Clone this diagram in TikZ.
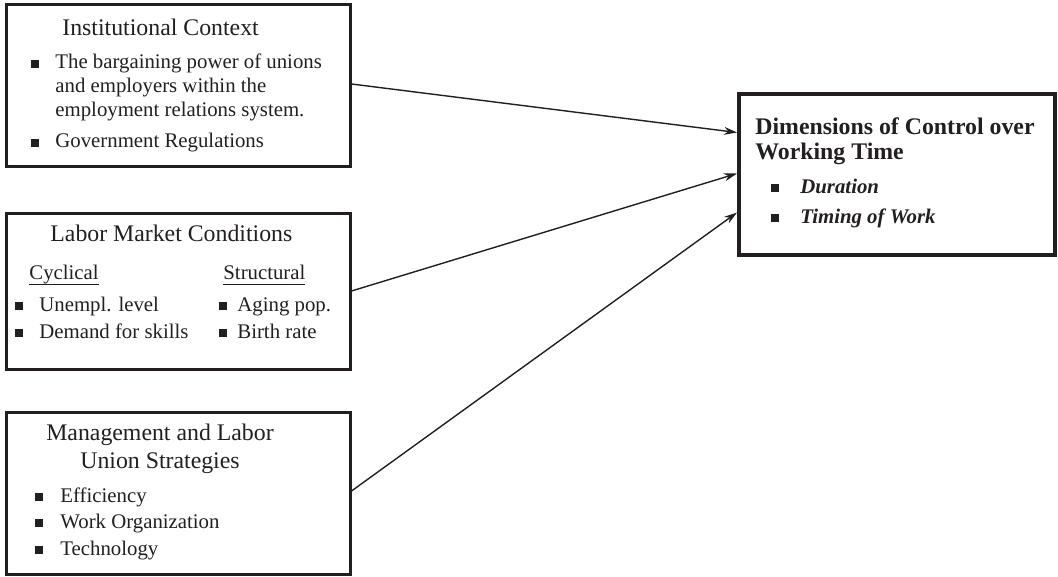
\documentclass[tikz,border=0pt]{standalone}
\usepackage{fontspec}
\setmainfont{Liberation Serif}
\usepackage{tikz}
\usetikzlibrary{positioning,arrows.meta,calc,fit}
\definecolor{Ink}{RGB}{35,31,32}

\newcommand{\sqbul}{\raisebox{0.5pt}{\rule{4pt}{4pt}}}
\newcommand{\bul}[2][8pt]{\llap{\sqbul\hspace{#1}}#2}
\newcommand{\underlined}[1]{\setbox0\hbox{#1}\rlap{\rule[-2.8pt]{\wd0}{0.5pt}}\box0}

\begin{document}
\begin{tikzpicture}[
    x=0.5pt, y=-0.5pt,
    box/.style={rectangle, draw=Ink, line width=1.5pt, inner sep=0pt},
    mainbox/.style={box, line width=2pt},
    title/.style={anchor=base west, inner sep=0pt, text=Ink,
                  font=\fontsize{11.9}{14}\selectfont},
    body/.style={anchor=base west, inner sep=0pt, text=Ink,
                 font=\fontsize{10.4}{12}\selectfont},
    arrow/.style={-{Stealth[length=6.5pt, width=4pt]}, draw=Ink, line width=0.7pt}
]
    \useasboundingbox (0,0) rectangle (1058,577);

    % boxes
    \node[box, fit={(6,5) (350,167)}] (inst) {};
    \node[box, fit={(6,213) (350,369)}] (market) {};
    \node[box, fit={(6,412) (350,574)}] (strat) {};
    \node[mainbox, fit={(739,94) (1055,255)}] (dims) {};

    % institutional context
    \node[title] (inst-title) at (62,36) {Institutional Context};
    \node[body] (inst-1) at (55,69) {\bul{The bargaining power of unions}};
    \node[body] (inst-2) at (55,93) {and employers within the};
    \node[body] (inst-3) at (55,117) {employment relations system.};
    \node[body] (inst-4) at (55,148) {\bul{Government Regulations}};

    % labor market
    \node[title] (market-title) at (50,242) {Labor Market Conditions};
    \node[body] (cyc) at (29,279) {\underlined{Cyclical}};
    \node[body] (struc) at (223,279) {\underlined{Structural}};
    \node[body] (cyc-1) at (39,311) {\bul{Unempl. level}};
    \node[body] (cyc-2) at (39,338) {\bul{Demand for skills}};
    \node[body] (struc-1) at (237,311) {\bul[5pt]{Aging pop.}};
    \node[body] (struc-2) at (237,338) {\bul[5pt]{Birth rate}};

    % strategies
    \node[title, anchor=base] (strat-title-a) at (160,440) {Management and Labor};
    \node[title, anchor=base] (strat-title-b) at (160,468) {Union Strategies};
    \node[body] (strat-1) at (60,502) {\bul[8.5pt]{Efficiency}};
    \node[body] (strat-2) at (60,528) {\bul[8.5pt]{Work Organization}};
    \node[body] (strat-3) at (60,555) {\bul[8.5pt]{Technology}};

    % dimensions
    \node[title, font=\bfseries\fontsize{11.9}{14}\selectfont] (dims-title-a) at (755,135) {Dimensions of Control over};
    \node[title, font=\bfseries\fontsize{11.9}{14}\selectfont] (dims-title-b) at (755,160) {Working Time};
    \node[body, font=\bfseries\itshape\fontsize{10.4}{12}\selectfont] (dims-1) at (800,193) {\bul[10.5pt]{Duration}};
    \node[body, font=\bfseries\itshape\fontsize{10.4}{12}\selectfont] (dims-2) at (800,223) {\bul[10.5pt]{Timing of Work}};

    % arrows
    \coordinate (in-a) at ($(dims.west)+(0,-42)$);
    \coordinate (in-b) at ($(dims.west)+(0,-1)$);
    \coordinate (in-c) at ($(dims.west)+(0,38)$);
    \draw[arrow] ([yshift=1pt]inst.east) -- (in-a);
    \draw[arrow] (market.east) -- (in-b);
    \draw[arrow] ([yshift=1pt]strat.east) -- (in-c);
\end{tikzpicture}
\end{document}
